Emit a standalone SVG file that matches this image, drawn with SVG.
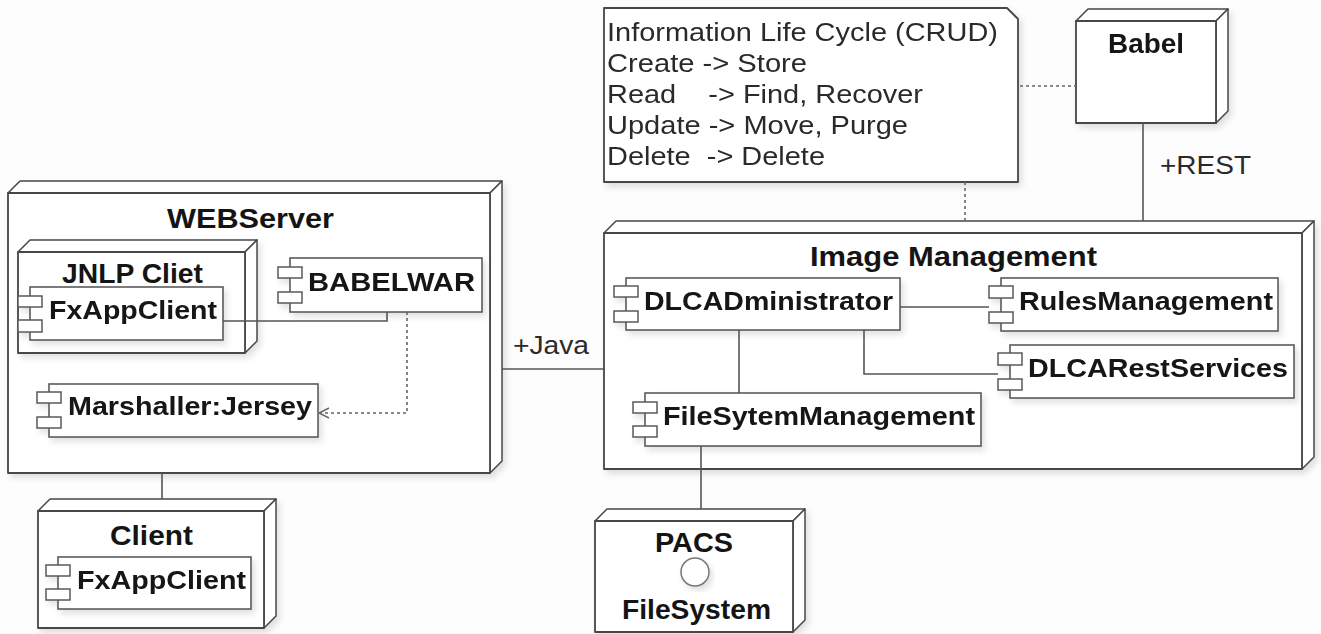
<svg xmlns="http://www.w3.org/2000/svg" width="1321" height="634" viewBox="0 0 1321 634">
<style>
.bg{fill:#fdfdfd}
.node{fill:#ffffff;stroke:#474747;stroke-width:1.8;stroke-linejoin:round}
.face{fill:#ffffff;stroke:#474747;stroke-width:1.5;stroke-linejoin:round}
.comp{fill:#ffffff;stroke:#5a5a5a;stroke-width:1.6}
.tab{fill:#ffffff;stroke:#5a5a5a;stroke-width:1.5}
.title{font-family:"Liberation Sans",Arial,sans-serif;font-weight:bold;font-size:27px;fill:#141414}
.ctext{font-family:"Liberation Sans",Arial,sans-serif;font-weight:bold;font-size:26px;fill:#141414}
.reg{font-family:"Liberation Sans",Arial,sans-serif;font-size:26px;fill:#2a2a2a;white-space:pre}
.conn{fill:none;stroke:#555555;stroke-width:1.6}
.dot{fill:none;stroke:#666666;stroke-width:1.6;stroke-dasharray:3 3}
</style>
<defs>
<filter id="sh" x="-10%" y="-10%" width="130%" height="130%">
<feDropShadow dx="3" dy="4" stdDeviation="3" flood-color="#000" flood-opacity="0.12"/>
</filter>
<marker id="open" viewBox="0 0 12 12" refX="11" refY="6" markerWidth="12" markerHeight="12" markerUnits="userSpaceOnUse" orient="auto">
<path d="M1,1 L11,6 L1,11" fill="none" stroke="#666666" stroke-width="1.4"/>
</marker>
</defs>
<rect class="bg" x="0" y="0" width="1321" height="634"/>

<g id="note" filter="url(#sh)">
<polygon class="node" points="604,8 1007,8 1018,19 1018,182 604,182"/>
<text class="reg" x="607" y="41" textLength="391" lengthAdjust="spacingAndGlyphs">Information Life Cycle (CRUD)</text>
<text class="reg" x="607" y="72" textLength="200" lengthAdjust="spacingAndGlyphs">Create -&gt; Store</text>
<text class="reg" x="607" y="103" textLength="316" lengthAdjust="spacingAndGlyphs" xml:space="preserve">Read    -&gt; Find, Recover</text>
<text class="reg" x="607" y="134" textLength="301" lengthAdjust="spacingAndGlyphs">Update -&gt; Move, Purge</text>
<text class="reg" x="607" y="165" textLength="218" lengthAdjust="spacingAndGlyphs" xml:space="preserve">Delete  -&gt; Delete</text>
</g>

<g id="babel" filter="url(#sh)">
<polygon class="face" points="1076,21 1088,9 1228,9 1216,21"/>
<polygon class="face" points="1216,21 1228,9 1228,111 1216,123"/>
<rect class="node" x="1076" y="21" width="140" height="102"/>
<text class="title" x="1108" y="53" textLength="76" lengthAdjust="spacingAndGlyphs">Babel</text>
</g>

<g id="webserver">
<g filter="url(#sh)">
<polygon class="face" points="8,193 20,181 502,181 490,193"/>
<polygon class="face" points="490,193 502,181 502,461 490,473"/>
<rect class="node" x="8" y="193" width="482" height="280"/>
</g>
<text class="title" x="167" y="228" textLength="167" lengthAdjust="spacingAndGlyphs">WEBServer</text>
</g>

<g id="jnlp-cliet">
<g filter="url(#sh)">
<polygon class="face" points="18,252 30,240 257,240 245,252"/>
<polygon class="face" points="245,252 257,240 257,341 245,353"/>
<rect class="node" x="18" y="252" width="227" height="101"/>
</g>
<text class="title" x="62" y="283" textLength="141" lengthAdjust="spacingAndGlyphs">JNLP Cliet</text>
</g>

<g id="fxappclient-jnlp" filter="url(#sh)">
<rect class="comp" x="30" y="287" width="193" height="53"/>
<rect class="tab" x="18" y="296" width="24" height="11"/>
<rect class="tab" x="18" y="320" width="24" height="12"/>
<text class="ctext" x="49" y="319" textLength="168" lengthAdjust="spacingAndGlyphs">FxAppClient</text>
</g>

<g id="babelwar" filter="url(#sh)">
<rect class="comp" x="290" y="258" width="192" height="54"/>
<rect class="tab" x="278" y="267" width="24" height="11"/>
<rect class="tab" x="278" y="292" width="24" height="11"/>
<text class="ctext" x="308" y="291" textLength="167" lengthAdjust="spacingAndGlyphs">BABELWAR</text>
</g>

<g id="marshaller" filter="url(#sh)">
<rect class="comp" x="49" y="384" width="269" height="53"/>
<rect class="tab" x="37" y="392" width="24" height="11"/>
<rect class="tab" x="37" y="417" width="24" height="11"/>
<text class="ctext" x="68" y="415" textLength="244" lengthAdjust="spacingAndGlyphs">Marshaller:Jersey</text>
</g>

<g id="client">
<g filter="url(#sh)">
<polygon class="face" points="38,511 50,499 276,499 264,511"/>
<polygon class="face" points="264,511 276,499 276,616 264,628"/>
<rect class="node" x="38" y="511" width="226" height="117"/>
</g>
<text class="title" x="110" y="545" textLength="83" lengthAdjust="spacingAndGlyphs">Client</text>
</g>

<g id="fxappclient-client" filter="url(#sh)">
<rect class="comp" x="58" y="557" width="193" height="52"/>
<rect class="tab" x="46" y="565" width="24" height="11"/>
<rect class="tab" x="46" y="589" width="24" height="11"/>
<text class="ctext" x="77" y="589" textLength="169" lengthAdjust="spacingAndGlyphs">FxAppClient</text>
</g>

<g id="image-management">
<g filter="url(#sh)">
<polygon class="face" points="604,233 616,221 1314,221 1302,233"/>
<polygon class="face" points="1302,233 1314,221 1314,457 1302,469"/>
<rect class="node" x="604" y="233" width="698" height="236"/>
</g>
<text class="title" x="810" y="266" textLength="287" lengthAdjust="spacingAndGlyphs">Image Management</text>
</g>

<g id="dlcadministrator" filter="url(#sh)">
<rect class="comp" x="626" y="278" width="274" height="52"/>
<rect class="tab" x="614" y="286" width="24" height="11"/>
<rect class="tab" x="614" y="311" width="24" height="11"/>
<text class="ctext" x="644" y="310" textLength="249" lengthAdjust="spacingAndGlyphs">DLCADministrator</text>
</g>

<g id="rulesmanagement" filter="url(#sh)">
<rect class="comp" x="1001" y="278" width="277" height="53"/>
<rect class="tab" x="989" y="286" width="24" height="12"/>
<rect class="tab" x="989" y="312" width="24" height="11"/>
<text class="ctext" x="1019" y="310" textLength="254" lengthAdjust="spacingAndGlyphs">RulesManagement</text>
</g>

<g id="dlcarestservices" filter="url(#sh)">
<rect class="comp" x="1010" y="345" width="284" height="53"/>
<rect class="tab" x="998" y="353" width="24" height="12"/>
<rect class="tab" x="998" y="379" width="24" height="11"/>
<text class="ctext" x="1028" y="377" textLength="260" lengthAdjust="spacingAndGlyphs">DLCARestServices</text>
</g>

<g id="filesytemmanagement" filter="url(#sh)">
<rect class="comp" x="645" y="393" width="336" height="53"/>
<rect class="tab" x="633" y="402" width="24" height="11"/>
<rect class="tab" x="633" y="426" width="24" height="11"/>
<text class="ctext" x="663" y="425" textLength="312" lengthAdjust="spacingAndGlyphs">FileSytemManagement</text>
</g>

<g id="pacs">
<g filter="url(#sh)">
<polygon class="face" points="595,521 607,509 805,509 793,521"/>
<polygon class="face" points="793,521 805,509 805,620 793,632"/>
<rect class="node" x="595" y="521" width="198" height="111"/>
</g>
<text class="title" x="655" y="552" textLength="78" lengthAdjust="spacingAndGlyphs">PACS</text>
<circle cx="695" cy="572" r="14" fill="#ffffff" stroke="#777777" stroke-width="1.5" filter="url(#sh)"/>
<text class="title" x="622" y="619" textLength="149" lengthAdjust="spacingAndGlyphs">FileSystem</text>
</g>

<g id="connectors">
<polyline class="conn" points="223,321 387,321 387,312"/>
<polyline class="dot" points="407,312 407,413 319,413" marker-end="url(#open)"/>
<line class="conn" x1="162" y1="473" x2="162" y2="499"/>
<line class="conn" x1="502" y1="369" x2="604" y2="369"/>
<line class="conn" x1="900" y1="307" x2="989" y2="307"/>
<polyline class="conn" points="864,330 864,374 998,374"/>
<line class="conn" x1="739" y1="330" x2="739" y2="393"/>
<line class="conn" x1="701" y1="469" x2="701" y2="509"/>
<line class="conn" x1="701" y1="446" x2="701" y2="469"/>
<line class="dot" x1="965" y1="182" x2="965" y2="221"/>
<line class="dot" x1="1020" y1="86" x2="1076" y2="86"/>
<line class="conn" x1="1143" y1="123" x2="1143" y2="221"/>
<text class="reg" x="513" y="354" textLength="76" lengthAdjust="spacingAndGlyphs">+Java</text>
<text class="reg" x="1160" y="174" textLength="91" lengthAdjust="spacingAndGlyphs">+REST</text>
</g>
</svg>
